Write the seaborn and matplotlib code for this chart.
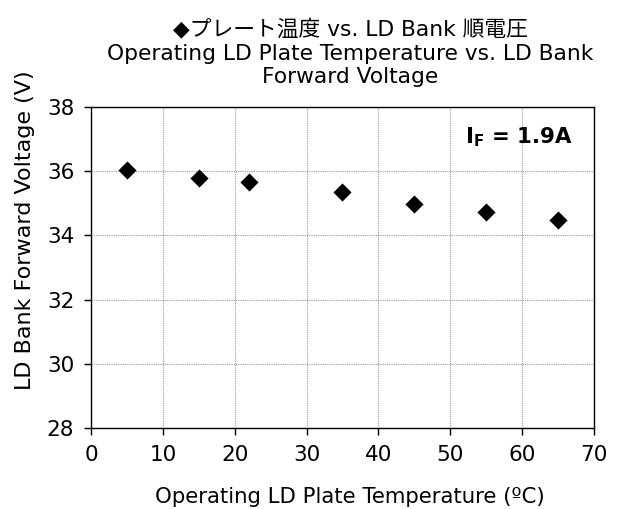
import matplotlib
matplotlib.use("Agg")
import matplotlib.pyplot as plt
import seaborn as sns
import pandas as pd

temperature = [5, 15, 22, 35, 45, 55, 65]
voltage = [36.05, 35.8, 35.67, 35.36, 34.98, 34.73, 34.48]
x_ticks = [0, 10, 20, 30, 40, 50, 60, 70]
y_ticks = [28, 30, 32, 34, 36, 38]

title = "◆プレート温度 vs. LD Bank 順電圧\nOperating LD Plate Temperature vs. LD Bank\nForward Voltage"
xlabel = "Operating LD Plate Temperature (ºC)"
ylabel = "LD Bank Forward Voltage (V)"

sns.set_theme(style="white")
plt.rcParams['font.family'] = ['DejaVu Sans', 'Noto Sans CJK JP']
plt.rcParams['mathtext.fontset'] = 'dejavusans'

df = pd.DataFrame({"temp": temperature, "volt": voltage})

W, H = 637, 509
fig = plt.figure(figsize=(W / 100, H / 100), dpi=100)
ax = fig.add_axes([91 / W, 1 - 428 / H, (594 - 91) / W, (428 - 107) / H])

sns.scatterplot(data=df, x="temp", y="volt", marker="D", s=85, color="black",
                linewidth=0, ax=ax, zorder=3)

ax.set_xlim(0, 70)
ax.set_ylim(28, 38)
ax.set_xticks(x_ticks)
ax.set_yticks(y_ticks)
ax.grid(True, color="#999999", linestyle=(0, (1, 1)), linewidth=0.8)
for s in ax.spines.values():
    s.set_color("black")
    s.set_linewidth(1.0)
ax.tick_params(axis="both", direction="out", length=5, width=1, color="black",
               labelsize=15.5, labelcolor="black", left=True, bottom=True, pad=7)
ax.set_xlabel("")
ax.set_ylabel("")

fig.text(350 / W, 1 - 497 / H, xlabel, ha="center", va="center",
         fontsize=15.3, color="black")
fig.text(25 / W, 1 - 230 / H, ylabel, ha="center", va="center",
         rotation=90, fontsize=16, color="black")

fig.text(350 / W, 1 - 53 / H, title, ha="center", va="center", fontsize=15.7,
         color="black", linespacing=1.2, multialignment="center",
         family=['DejaVu Sans', 'Noto Sans CJK JP'])

ax.text(0.958, 0.905, r"$\mathbf{I_{F}}$ = 1.9A", transform=ax.transAxes,
        ha="right", va="center", fontsize=15.3, fontweight="bold", color="black")

fig.savefig("out.png", dpi=100)
